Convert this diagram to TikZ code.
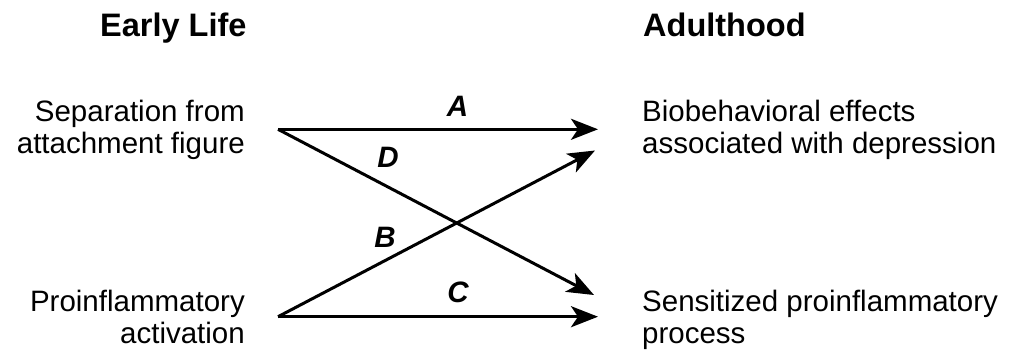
\documentclass[tikz,border=0pt]{standalone}
\usepackage{fontspec}
\setmainfont{Liberation Sans}
\usetikzlibrary{arrows.meta}
\tikzset{
  head/.style={font=\fontsize{32.5}{36}\selectfont\bfseries, inner sep=0pt},
  body/.style={font=\fontsize{29.5}{31.8}\selectfont, inner sep=0pt},
  lab/.style={font=\fontsize{29.5}{31}\selectfont\bfseries\itshape, inner sep=0pt},
  link/.style={line width=3pt, -{Stealth[length=27pt, width=21pt, inset=7pt]}}
}
\begin{document}
\begin{tikzpicture}[x=1pt, y=-1pt]
\useasboundingbox (0,0) rectangle (1010,354);
\node[head, anchor=base west] (early) at (100,36.5) {Early Life};
\node[head, anchor=base west] (adult) at (643,36.5) {Adulthood};
\node[body, anchor=base east, align=right] (sep) at (245,153) {Separation from\\attachment figure};
\node[body, anchor=base east, align=right] (pro) at (245,343) {Proinflammatory\\activation};
\node[body, anchor=base west, align=left] (bio) at (642,153) {Biobehavioral effects\\associated with depression};
\node[body, anchor=base west, align=left] (sen) at (642,343) {Sensitized proinflammatory\\process};
\coordinate (tl) at (278,129.3);
\coordinate (bl) at (278,316.7);
\coordinate (ta) at (598,129.3);
\coordinate (tb) at (595,150.5);
\coordinate (td) at (594,295);
\coordinate (tc) at (598,316.7);
\draw[link] (tl) -- (ta);
\draw[link] (tl) -- (td);
\draw[link] (bl) -- (tb);
\draw[link] (bl) -- (tc);
\node[lab] (A) at (457.5,106) {A};
\node[lab] (D) at (388,157) {D};
\node[lab] (B) at (385,237) {B};
\node[lab] (C) at (458,292) {C};
\end{tikzpicture}
\end{document}
